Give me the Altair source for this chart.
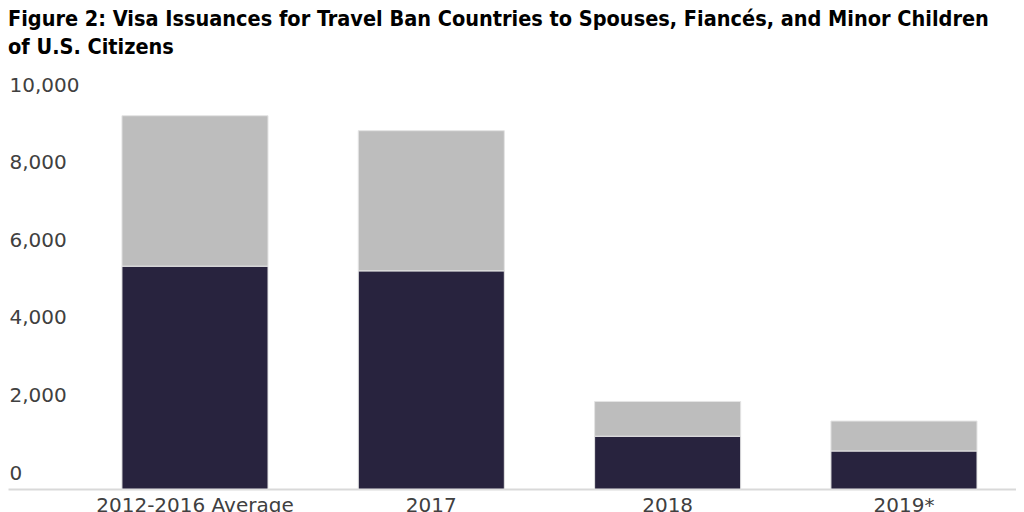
import altair as alt
import pandas as pd

categories = ["2012-2016 Average", "2017", "2018", "2019*"]
series_names = ["Lower segment", "Upper segment"]
lower_values = [5743, 5622, 1360, 979]
upper_values = [3878, 3613, 896, 772]
y_ticks = [0, 2000, 4000, 6000, 8000, 10000]
colors = ["#28233e", "#bdbdbd"]
title_lines = [
    "Figure 2: Visa Issuances for Travel Ban Countries to Spouses, Fiancés, and Minor Children",
    "of U.S. Citizens",
]

rows = []
for i, c in enumerate(categories):
    rows.append({"cat": c, "series": series_names[0], "value": lower_values[i], "ord": 0})
    rows.append({"cat": c, "series": series_names[1], "value": upper_values[i], "ord": 1})
df = pd.DataFrame(rows)

chart = (
    alt.Chart(df)
    .mark_bar(stroke="#e4e4e4", strokeWidth=1)
    .encode(
        x=alt.X(
            "cat:N",
            sort=categories,
            scale=alt.Scale(paddingInner=0.382, paddingOuter=0.3236, align=0.745),
            axis=alt.Axis(
                title=None,
                labelAngle=0,
                ticks=False,
                domain=True,
                domainColor="#d9d9d9",
                domainWidth=2,
                labelPadding=6,
                labelLimit=400,
                labelFont="DejaVu Sans",
                labelFontSize=20,
                labelColor="#404040",
            ),
        ),
        y=alt.Y(
            "value:Q",
            stack="zero",
            scale=alt.Scale(domain=[0, 10000], nice=False),
            axis=alt.Axis(
                title=None,
                values=y_ticks,
                format=",.0f",
                grid=False,
                domain=False,
                ticks=False,
                tickSize=0,
                labelAlign="left",
                labelPadding=-1,
                labelOffset=-16,
                labelFont="DejaVu Sans",
                labelFontSize=20,
                labelColor="#404040",
            ),
        ),
        color=alt.Color(
            "series:N",
            scale=alt.Scale(domain=series_names, range=colors),
            legend=None,
        ),
        order=alt.Order("ord:Q"),
    )
    .properties(
        width=1008,
        height=388,
        padding={"left": 0, "top": 0, "right": 0, "bottom": 0},
        title=alt.TitleParams(
            text=title_lines,
            anchor="start",
            font="DejaVu Sans Condensed, Liberation Sans Narrow, Roboto Condensed, Arial Narrow, Roboto",
            fontSize=21.5,
            fontWeight="bold",
            color="#000000",
            lineHeight=28,
            offset=17,
        ),
    )
    .configure_view(strokeWidth=0)
)

chart.save("out.html", embed_options={"renderer": "svg", "actions": False})
